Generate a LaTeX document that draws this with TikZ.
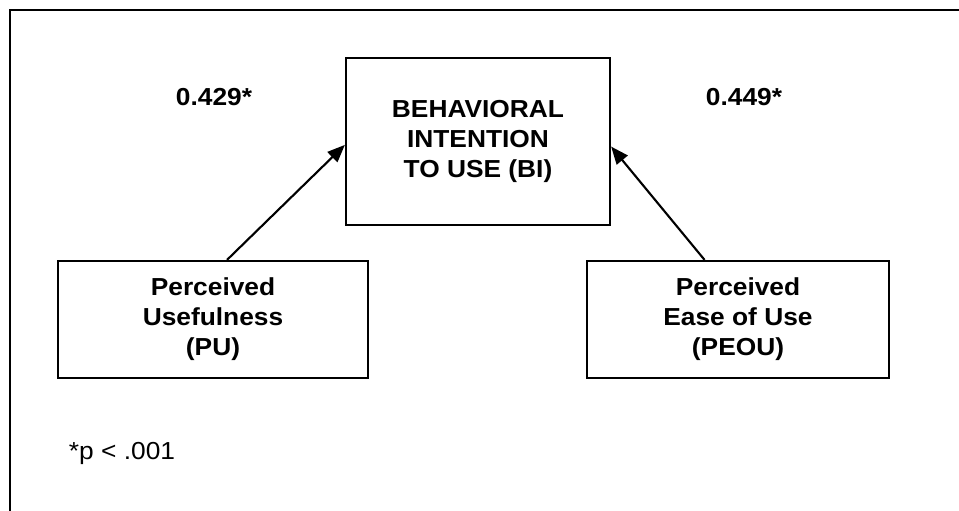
\documentclass[tikz,border=0pt]{standalone}
\usepackage{fontspec}
\setmainfont{Liberation Sans}[FakeStretch=1.07]
\usetikzlibrary{calc, arrows.meta}
\tikzset{
    box/.style={draw, line width=1.3pt, align=center, inner sep=0pt,
        font=\fontsize{14}{17}\selectfont\bfseries},
    coef/.style={font=\fontsize{14}{17}\selectfont\bfseries},
    path/.style={line width=1.2pt, -{Triangle[length=10pt, width=8pt]}}
}

\begin{document}
\begin{tikzpicture}[x=0.02cm, y=-0.02cm]
            \useasboundingbox (0, 0) rectangle (959, 510);
            \draw [line width=1.3pt] (10, 515) -- (10, 10) -- (965, 10);

            \node [box, minimum width=5.28cm, minimum height=3.34cm] (BI) at (478, 141.5) {BEHAVIORAL\\INTENTION\\TO USE (BI)};
            \node [box, minimum width=6.2cm, minimum height=2.34cm] (PU) at (213, 319.5) {Perceived\\Usefulness\\(PU)};
            \node [box, minimum width=6.04cm, minimum height=2.34cm] (PEOU) at (738, 319.5) {Perceived\\Ease of Use\\(PEOU)};

            \node [coef] (bPU) at (214, 97) {0.429*};
            \node [coef] (bPEOU) at (744, 97) {0.449*};
            \node [font=\fontsize{14}{17}\selectfont] (note) at (122, 453) {*p < .001};

            \draw [path] ($(PU.north west)!0.545!(PU.north east)$) -- ($(BI.north west)!0.52!(BI.south west)$);
            \draw [path] ($(PEOU.north west)!0.39!(PEOU.north east)$) -- ($(BI.north east)!0.53!(BI.south east)$);
        \end{tikzpicture}
\end{document}
